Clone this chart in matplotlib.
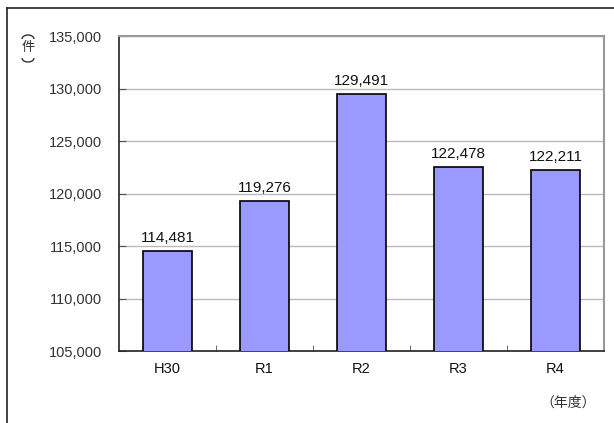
import matplotlib
matplotlib.use("Agg")
import matplotlib.pyplot as plt
from matplotlib.lines import Line2D
from matplotlib.patches import Arc
from matplotlib.ticker import FuncFormatter

plt.rcParams['font.family'] = ['Liberation Sans', 'Noto Sans CJK JP', 'DejaVu Sans']

years = ["H30", "R1", "R2", "R3", "R4"]
counts = [114481, 119276, 129491, 122478, 122211]
y_ticks = [105000, 110000, 115000, 120000, 125000, 130000, 135000]

W, H = 614, 423
fig = plt.figure(figsize=(W / 100, H / 100), dpi=100)
ax = fig.add_axes([119 / W, 1 - 351 / H, 485 / W, 315 / H])

x = range(len(years))
ax.bar(x, counts, width=0.5, color="#9999FF", edgecolor="black", linewidth=1.2, zorder=3)

for i, v in zip(x, counts):
    ax.text(i, v + 600, f"{v:,}", ha="center", va="bottom", fontsize=11, color="#111111")

ax.set_ylim(105000, 135000)
ax.set_xlim(-0.5, len(years) - 0.5)
ax.set_yticks(y_ticks)
ax.yaxis.set_major_formatter(FuncFormatter(lambda v, p: f"{int(v):,}"))
ax.grid(axis="y", color="#bbbbbb", linewidth=1, zorder=0)

ax.set_xticks(list(x))
ax.set_xticklabels(years)
ax.set_xticks([i + 0.5 for i in range(len(years) - 1)], minor=True)
ax.tick_params(axis="x", which="major", length=0, pad=8, labelsize=10.5, colors="#111111")
ax.tick_params(axis="x", which="minor", direction="in", length=4, color="#555555")
ax.tick_params(axis="y", direction="in", length=5, pad=12, labelsize=10.5,
               labelcolor="#333333", color="#555555")

for side in ["top", "right"]:
    ax.spines[side].set_color("#999999")
    ax.spines[side].set_linewidth(1.5)
for side in ["left", "bottom"]:
    ax.spines[side].set_color("#222222")
    ax.spines[side].set_linewidth(1.2)

# unit label: vertical (件) -- brackets drawn as arcs
fig.add_artist(Arc((28 / W, 1 - 39 / H), 12 / W, 8 / H, theta1=0, theta2=180,
                   transform=fig.transFigure, color="#333333", linewidth=1))
fig.text(28.5 / W, 1 - 48 / H, "件", ha="center", va="center", fontsize=9.5,
         family=['Noto Sans CJK JP'], color="#333333")
fig.add_artist(Arc((28 / W, 1 - 58 / H), 12 / W, 8 / H, theta1=180, theta2=360,
                   transform=fig.transFigure, color="#333333", linewidth=1))
fig.text(568 / W, 1 - 403 / H, "（年度）", ha="center", va="center", fontsize=10,
         family=['Noto Sans CJK JP'], color="#333333")

# outer frame
fig.add_artist(Line2D([7 / W, 7 / W], [0, 1 - 8 / H], transform=fig.transFigure,
                      color="#222222", linewidth=1.2))
fig.add_artist(Line2D([7 / W, 1], [1 - 8 / H, 1 - 8 / H], transform=fig.transFigure,
                      color="#222222", linewidth=1.2))

fig.savefig("out.png", dpi=100)
